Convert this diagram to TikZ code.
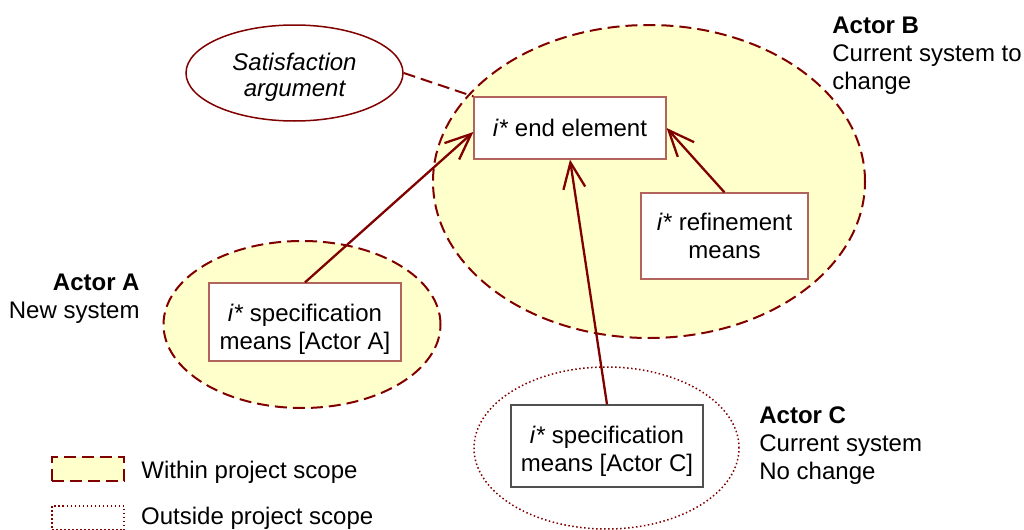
\documentclass[tikz,border=0pt]{standalone}
\usepackage{fontspec}
\setmainfont{Liberation Sans}
\usepackage{xcolor}
\usepackage{tikz}
\usetikzlibrary{shapes.geometric,arrows.meta,positioning}
\definecolor{maroon}{HTML}{800000}
\definecolor{scopefill}{HTML}{FFFFCC}
\definecolor{boxedge}{HTML}{B0645C}
\definecolor{outedge}{HTML}{505050}

\begin{document}
\begin{tikzpicture}[x=0.5pt,y=-0.5pt,font=\fontsize{12}{14}\selectfont,
  inscope/.style={ellipse, draw=maroon, fill=scopefill, line width=1pt, dash pattern=on 6pt off 3pt, inner sep=0},
  outscope/.style={ellipse, draw=maroon, line width=0.75pt, dash pattern=on 0.75pt off 1.25pt, inner sep=0},
  ibox/.style={draw=boxedge, fill=white, line width=0.6pt, minimum width=96pt, align=center, inner sep=0},
  means/.style={draw=maroon, line width=1.15pt, -{Straight Barb[length=13pt,width=11pt]}},
  actor/.style={inner sep=0}]
\useasboundingbox (0,0) rectangle (1024,530);
% scopes
\node[inscope, minimum width=216pt, minimum height=156.5pt] (scopeB) at (649,181.5) {};
\node[inscope, minimum width=138.5pt, minimum height=83.5pt] (scopeA) at (302,324.5) {};
\node[outscope, minimum width=132.5pt, minimum height=81pt] (scopeC) at (606.5,448) {};
% elements
\node[ibox, minimum height=31pt] (endel) at (570,128) {\textit{i*} end element};
\node[ibox, minimum width=83.5pt, minimum height=43pt] (refine) at (724.5,236) {\textit{i*} refinement\\means};
\node[ibox, minimum height=39pt] (specA) at (305,322) {\rule{0pt}{15.5pt}\textit{i*} specification\\means [Actor A]};
\node[ibox, draw=outedge, minimum height=41pt] (specC) at (607,446) {\rule{0pt}{14pt}\textit{i*} specification\\means [Actor C]};
\node[ellipse, draw=maroon, line width=0.75pt, minimum width=108.5pt, minimum height=48pt, inner sep=0, align=center, font=\fontsize{12}{13}\selectfont\itshape] (satarg) at (294.5,73) {\rule{0pt}{13pt}Satisfaction\\argument};
% links
\draw[maroon, line width=1pt, dash pattern=on 6pt off 3pt] (satarg.east) -- (endel.north west);
\draw[means] (specA.north) -- ([yshift=-2pt]endel.west);
\draw[means] (specC.north) -- (endel.south);
\draw[means] (refine.north) -- (endel.east);
% actors
\node[actor, align=right, anchor=east] (actorA) at (140,298.5) {\textbf{Actor A}\\New system};
\node[actor, align=left, anchor=west] (actorB) at (832,56) {\textbf{Actor B}\\Current system to\\change};
\node[actor, align=left, anchor=west] (actorC) at (759,446) {\textbf{Actor C}\\Current system\\No change};
% legend
\node[inscope, rectangle, minimum width=36pt, minimum height=12pt] (legIn) at (88,469) {};
\node[outscope, rectangle, minimum width=36pt, minimum height=12pt] (legOut) at (88,518) {};
\node[actor, right=8pt of legIn, yshift=-1.5pt] (legInText) {Within project scope};
\node[actor, right=8pt of legOut] (legOutText) {Outside project scope};
\end{tikzpicture}
\end{document}
